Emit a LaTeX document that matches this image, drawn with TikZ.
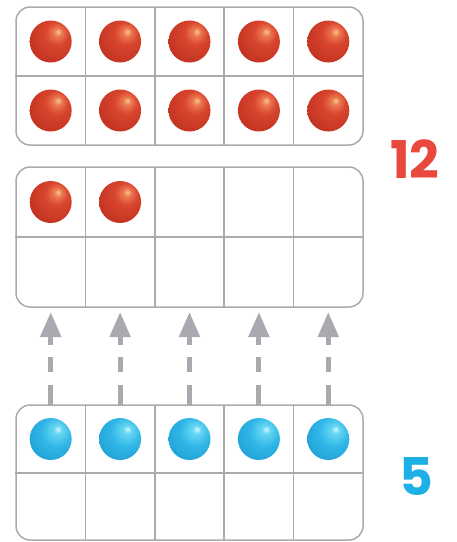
\documentclass[tikz,border=0pt]{standalone}
\usepackage{fontspec}
\newfontfamily\numfont{Poppins}
\usetikzlibrary{arrows.meta}
\definecolor{gridgray}{HTML}{ABABAD}
\definecolor{arrowgray}{HTML}{ABA8B0}
\definecolor{numred}{HTML}{E8493C}
\definecolor{numblue}{HTML}{1DB0E6}
\definecolor{rbA}{HTML}{F8C888}
\definecolor{rbB}{HTML}{EC7650}
\definecolor{rbC}{HTML}{D8452E}
\definecolor{rbD}{HTML}{C03220}
\definecolor{rbE}{HTML}{8A1C10}
\definecolor{bbA}{HTML}{D0F8FF}
\definecolor{bbB}{HTML}{66D6F4}
\definecolor{bbC}{HTML}{30B6E6}
\definecolor{bbD}{HTML}{1C9AD2}
\definecolor{bbE}{HTML}{1476AE}
\pgfdeclareradialshading{redballshade}{\pgfpoint{9bp}{12bp}}{color(0bp)=(rbA); color(5bp)=(rbB); color(14bp)=(rbC); color(34bp)=(rbD); color(66bp)=(rbE)}
\pgfdeclareradialshading{blueballshade}{\pgfpoint{9bp}{12bp}}{color(0bp)=(bbA); color(5bp)=(bbB); color(18bp)=(bbC); color(40bp)=(bbD); color(66bp)=(bbE)}
\tikzset{
  frame/.style={draw=gridgray, line width=1.5pt, rounded corners=14pt, minimum width=347pt, inner sep=0pt},
  gridline/.style={draw=gridgray, line width=1.5pt},
  redball/.style={circle, minimum size=42pt, inner sep=0pt, shading=redballshade},
  blueball/.style={circle, minimum size=42pt, inner sep=0pt, shading=blueballshade},
  uparrow/.style={draw=arrowgray, line width=5pt, dash pattern=on 20pt off 13pt on 15pt off 12pt on 8pt,
    -{Triangle[width=20pt,length=25pt,fill=arrowgray]}},
  bignum/.style={font=\numfont\bfseries\fontsize{52}{52}\selectfont, inner sep=0pt}
}
\begin{document}
\begin{tikzpicture}[x=1pt,y=-1pt]
\useasboundingbox (0,0) rectangle (457,542);
\fill[white] (0,0) rectangle (457,542);
% frames
\node[frame, minimum height=138pt] (f1) at (189.5,76) {};
\node[frame, minimum height=140pt] (f2) at (189.5,237) {};
\node[frame, minimum height=135pt] (f3) at (189.5,472.5) {};
% grid lines
\foreach \k in {1,...,4}{
  \pgfmathsetmacro{\gx}{16+69.4*\k}
  \draw[gridline] (\gx,7) -- (\gx,145);
  \draw[gridline] (\gx,167) -- (\gx,307);
  \draw[gridline] (\gx,405) -- (\gx,540);
}
\draw[gridline] (f1.west |- 0,76) -- (f1.east |- 0,76);
\draw[gridline] (f2.west |- 0,237) -- (f2.east |- 0,237);
\draw[gridline] (f3.west |- 0,473) -- (f3.east |- 0,473);
% balls
\foreach \k in {1,...,5}{
  \pgfmathsetmacro{\cx}{16+69.4*(\k-0.5)}
  \node[redball] (ra\k) at (\cx,41.5) {};
  \node[redball] (rb\k) at (\cx,110.5) {};
  \node[blueball] (bb\k) at (\cx,439) {};
  \coordinate (s\k) at (\cx,405);
  \coordinate (t\k) at (\cx,312);
  \draw[uparrow] (s\k) -- (t\k);
}
\node[redball] (m1) at (50.7,202) {};
\node[redball] (m2) at (120.1,202) {};
% numbers
\node[bignum, text=numred] (n12) at (415,159) {12};
\node[bignum, text=numblue] (n5) at (416,476) {5};
\end{tikzpicture}
\end{document}
